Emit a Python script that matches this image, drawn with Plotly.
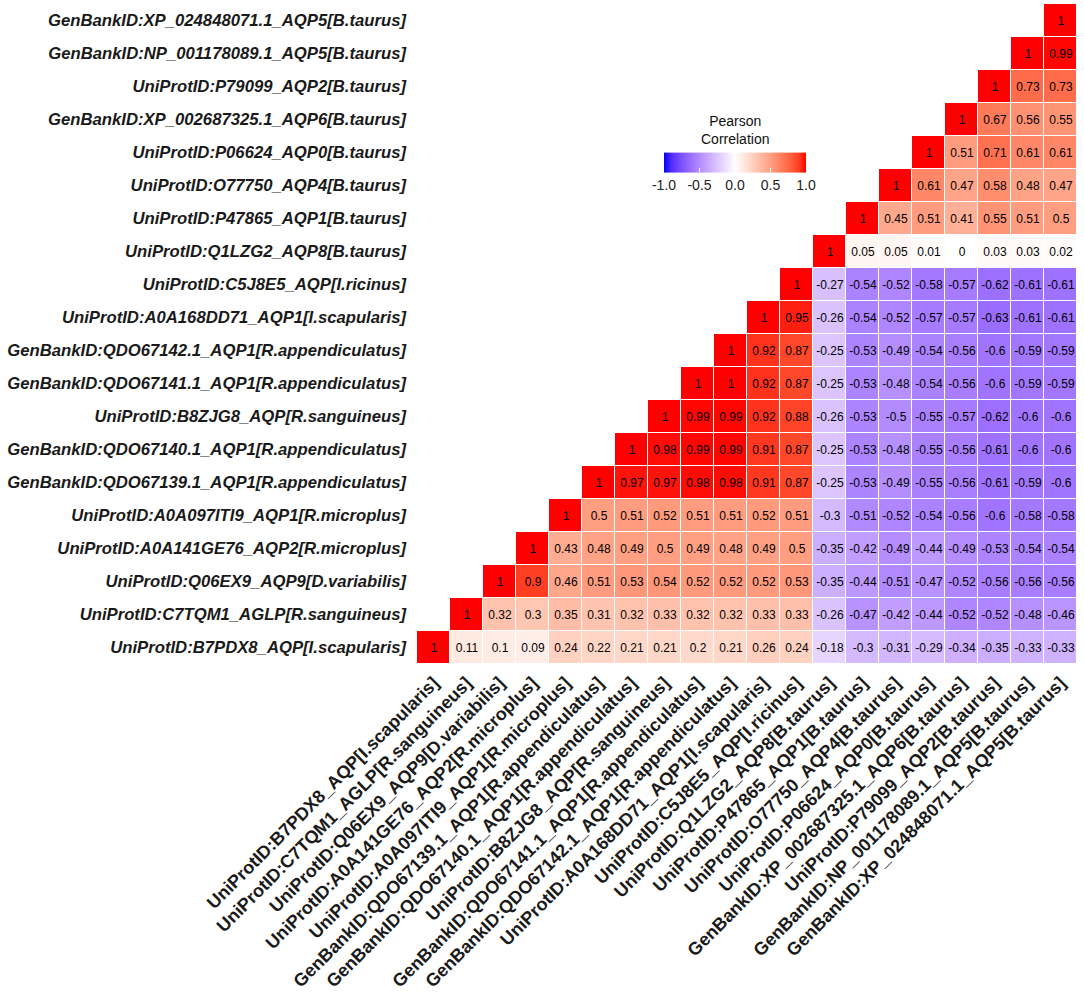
import plotly.graph_objects as go

labels = [
    "UniProtID:B7PDX8_AQP[I.scapularis]",
    "UniProtID:C7TQM1_AGLP[R.sanguineus]",
    "UniProtID:Q06EX9_AQP9[D.variabilis]",
    "UniProtID:A0A141GE76_AQP2[R.microplus]",
    "UniProtID:A0A097ITI9_AQP1[R.microplus]",
    "GenBankID:QDO67139.1_AQP1[R.appendiculatus]",
    "GenBankID:QDO67140.1_AQP1[R.appendiculatus]",
    "UniProtID:B8ZJG8_AQP[R.sanguineus]",
    "GenBankID:QDO67141.1_AQP1[R.appendiculatus]",
    "GenBankID:QDO67142.1_AQP1[R.appendiculatus]",
    "UniProtID:A0A168DD71_AQP1[I.scapularis]",
    "UniProtID:C5J8E5_AQP[I.ricinus]",
    "UniProtID:Q1LZG2_AQP8[B.taurus]",
    "UniProtID:P47865_AQP1[B.taurus]",
    "UniProtID:O77750_AQP4[B.taurus]",
    "UniProtID:P06624_AQP0[B.taurus]",
    "GenBankID:XP_002687325.1_AQP6[B.taurus]",
    "UniProtID:P79099_AQP2[B.taurus]",
    "GenBankID:NP_001178089.1_AQP5[B.taurus]",
    "GenBankID:XP_024848071.1_AQP5[B.taurus]",
]

# upper-triangle rows (row i starts at column i)
r00 = [1, 0.11, 0.1, 0.09, 0.24, 0.22, 0.21, 0.21, 0.2, 0.21, 0.26, 0.24, -0.18, -0.3, -0.31, -0.29, -0.34, -0.35, -0.33, -0.33]
r01 = [1, 0.32, 0.3, 0.35, 0.31, 0.32, 0.33, 0.32, 0.32, 0.33, 0.33, -0.26, -0.47, -0.42, -0.44, -0.52, -0.52, -0.48, -0.46]
r02 = [1, 0.9, 0.46, 0.51, 0.53, 0.54, 0.52, 0.52, 0.52, 0.53, -0.35, -0.44, -0.51, -0.47, -0.52, -0.56, -0.56, -0.56]
r03 = [1, 0.43, 0.48, 0.49, 0.5, 0.49, 0.48, 0.49, 0.5, -0.35, -0.42, -0.49, -0.44, -0.49, -0.53, -0.54, -0.54]
r04 = [1, 0.5, 0.51, 0.52, 0.51, 0.51, 0.52, 0.51, -0.3, -0.51, -0.52, -0.54, -0.56, -0.6, -0.58, -0.58]
r05 = [1, 0.97, 0.97, 0.98, 0.98, 0.91, 0.87, -0.25, -0.53, -0.49, -0.55, -0.56, -0.61, -0.59, -0.6]
r06 = [1, 0.98, 0.99, 0.99, 0.91, 0.87, -0.25, -0.53, -0.48, -0.55, -0.56, -0.61, -0.6, -0.6]
r07 = [1, 0.99, 0.99, 0.92, 0.88, -0.26, -0.53, -0.5, -0.55, -0.57, -0.62, -0.6, -0.6]
r08 = [1, 1, 0.92, 0.87, -0.25, -0.53, -0.48, -0.54, -0.56, -0.6, -0.59, -0.59]
r09 = [1, 0.92, 0.87, -0.25, -0.53, -0.49, -0.54, -0.56, -0.6, -0.59, -0.59]
r10 = [1, 0.95, -0.26, -0.54, -0.52, -0.57, -0.57, -0.63, -0.61, -0.61]
r11 = [1, -0.27, -0.54, -0.52, -0.58, -0.57, -0.62, -0.61, -0.61]
r12 = [1, 0.05, 0.05, 0.01, 0, 0.03, 0.03, 0.02]
r13 = [1, 0.45, 0.51, 0.41, 0.55, 0.51, 0.5]
r14 = [1, 0.61, 0.47, 0.58, 0.48, 0.47]
r15 = [1, 0.51, 0.71, 0.61, 0.61]
r16 = [1, 0.67, 0.56, 0.55]
r17 = [1, 0.73, 0.73]
r18 = [1, 0.99]
r19 = [1]

cbar_ticks = [-1, -0.5, 0, 0.5, 1]
cbar_ticktext = ["-1.0", "-0.5", "0.0", "0.5", "1.0"]

rows = [r00, r01, r02, r03, r04, r05, r06, r07, r08, r09,
        r10, r11, r12, r13, r14, r15, r16, r17, r18, r19]
n = len(labels)
z = [[None] * n for _ in range(n)]
txt = [[""] * n for _ in range(n)]
for i, row in enumerate(rows):
    for k, v in enumerate(row):
        j = i + k
        z[i][j] = v
        txt[i][j] = f"{v:g}"


# ---- Lab-interpolated diverging colour scale (blue - white - red) ----
def srgb_to_lab(rgb):
    def lin(c):
        c = c / 255.0
        return c / 12.92 if c <= 0.04045 else ((c + 0.055) / 1.055) ** 2.4
    r, g, b = (lin(c) for c in rgb)
    X = 0.4124564 * r + 0.3575761 * g + 0.1804375 * b
    Y = 0.2126729 * r + 0.7151522 * g + 0.0721750 * b
    Z = 0.0193339 * r + 0.1191920 * g + 0.9503041 * b
    X /= 0.95047; Z /= 1.08883
    def f(t):
        return t ** (1 / 3) if t > 0.008856 else 7.787 * t + 16 / 116
    fx, fy, fz = f(X), f(Y), f(Z)
    return (116 * fy - 16, 500 * (fx - fy), 200 * (fy - fz))


def lab_to_srgb(lab):
    L, a, b = lab
    fy = (L + 16) / 116
    fx = fy + a / 500
    fz = fy - b / 200
    def finv(t):
        return t ** 3 if t ** 3 > 0.008856 else (t - 16 / 116) / 7.787
    X, Y, Z = finv(fx) * 0.95047, finv(fy), finv(fz) * 1.08883
    r = 3.2404542 * X - 1.5371385 * Y - 0.4985314 * Z
    g = -0.9692660 * X + 1.8760108 * Y + 0.0415560 * Z
    bb = 0.0556434 * X - 0.2040259 * Y + 1.0572252 * Z
    def gam(c):
        c = max(0.0, min(1.0, c))
        return 12.92 * c if c <= 0.0031308 else 1.055 * c ** (1 / 2.4) - 0.055
    return tuple(int(round(255 * gam(c))) for c in (r, g, bb))


lo, mid, hi = srgb_to_lab((0, 0, 255)), srgb_to_lab((255, 255, 255)), srgb_to_lab((255, 0, 0))
cs = []
steps = 20
for s in range(steps + 1):
    t = s / steps
    if t <= 0.5:
        u = t / 0.5
        lab = tuple(lo[k] + (mid[k] - lo[k]) * u for k in range(3))
    else:
        u = (t - 0.5) / 0.5
        lab = tuple(mid[k] + (hi[k] - mid[k]) * u for k in range(3))
    r, g, b = lab_to_srgb(lab)
    cs.append([t, f"rgb({r},{g},{b})"])

W, H = 1084, 994
ml, mr, mt, mb = 417, 7, 4, 330
pw, ph = W - ml - mr, H - mt - mb

font_family = "Arial, Liberation Sans, sans-serif"

fig = go.Figure(go.Heatmap(
    x=labels, y=labels, z=z, text=txt, texttemplate="%{text}",
    textfont=dict(family=font_family, size=12, color="black"),
    zmin=-1, zmax=1, colorscale=cs, xgap=1, ygap=1, hoverinfo="skip",
    colorbar=dict(
        orientation="h", x=(735 - ml) / pw, xanchor="center",
        y=(H - mb - 174.7) / ph, yanchor="middle",
        len=142, lenmode="pixels", thickness=20, thicknessmode="pixels",
        outlinewidth=0, xpad=0, ypad=0,
        tickvals=cbar_ticks, ticktext=cbar_ticktext,
        ticks="inside", ticklen=4, tickcolor="white", tickwidth=1,
        tickfont=dict(family=font_family, size=14, color="#222222"),
    ),
))

fig.add_annotation(
    text="Pearson<br>Correlation", xref="paper", yref="paper",
    x=(735 - ml) / pw, y=(H - mb - 130) / ph, xanchor="center", yanchor="middle",
    showarrow=False, font=dict(family=font_family, size=14, color="#111111"),
)

ytickfont = dict(family=font_family, size=16.7, color="#1a1a1a", weight="bold", style="italic")
xtickfont = dict(family=font_family, size=18, color="#1a1a1a", weight="bold", style="normal")
fig.update_xaxes(tickangle=-45, tickfont=xtickfont, showgrid=False, zeroline=False,
                 showline=False, ticks="", ticklabelstandoff=4, automargin=False,
                 range=[-0.5, n - 0.5], type="category")
fig.update_yaxes(tickfont=ytickfont, showgrid=False, zeroline=False, showline=False,
                 ticks="", ticklabelstandoff=10, automargin=False,
                 range=[-0.5, n - 0.5], type="category")

fig.update_layout(
    width=W, height=H, autosize=False,
    margin=dict(l=ml, r=mr, t=mt, b=mb, autoexpand=False),
    plot_bgcolor="white", paper_bgcolor="white",
    showlegend=False,
)

fig.write_html("out.html", config={"displayModeBar": False},
               post_script="document.body.style.margin='0';")
